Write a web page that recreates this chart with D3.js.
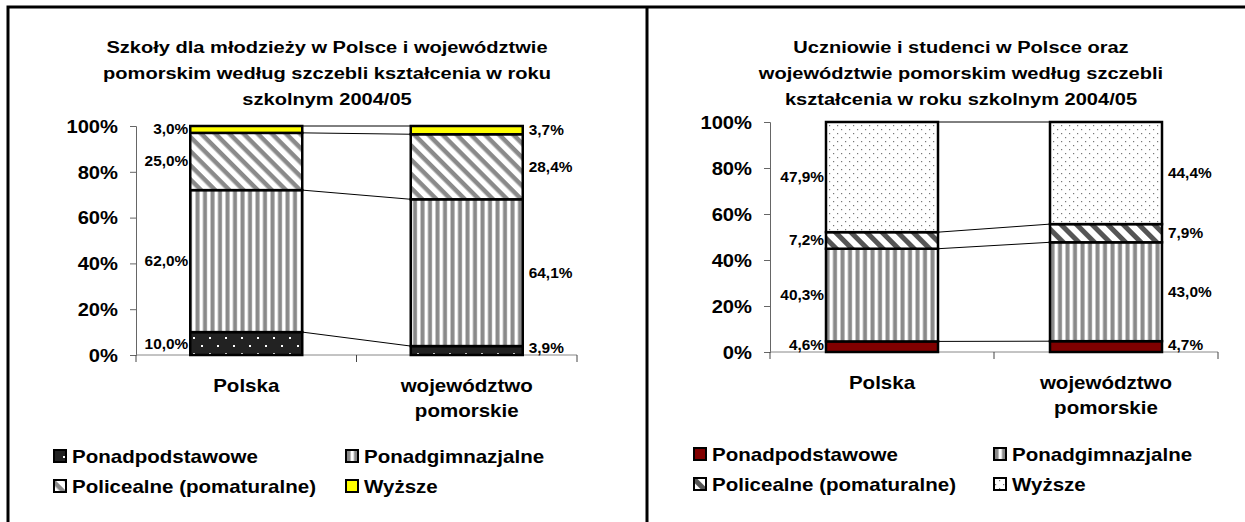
<!DOCTYPE html>
<html>
<head>
<meta charset="utf-8">
<script src="https://cdn.jsdelivr.net/npm/d3@7"></script>
<style>
  body { margin: 0; background: #fff; }
  svg { display: block; font-family: "Liberation Sans", Arial, sans-serif; font-weight: bold; }
</style>
</head>
<body>
<svg width="1245" height="522"></svg>
<script>
const width = 1245;
const height = 522;

// data
const categories = ['Polska', 'województwo pomorskie'];
const seriesNames = ['Ponadpodstawowe', 'Ponadgimnazjalne', 'Policealne (pomaturalne)', 'Wyższe'];
const yTicks = [0, 20, 40, 60, 80, 100];

const titleLeft = ['Szkoły dla młodzieży w Polsce i województwie',
                   'pomorskim według szczebli kształcenia w roku',
                   'szkolnym 2004/05'];
const schoolsPolska = [10.0, 62.0, 25.0, 3.0];
const schoolsPomorskie = [3.9, 64.1, 28.4, 3.7];

const titleRight = ['Uczniowie i studenci w Polsce oraz',
                    'województwie pomorskim według szczebli',
                    'kształcenia w roku szkolnym 2004/05'];
const pupilsPolska = [4.6, 40.3, 7.2, 47.9];
const pupilsPomorskie = [4.7, 43.0, 7.9, 44.4];

// text in the original is a bit wider than Liberation Sans
const stretch = 1.14;

const svg = d3.select('svg');
const defs = svg.append('defs');

// place text at (x, y) with horizontal stretch
function wide(sel, s) {
  sel.each(function() {
    const t = d3.select(this);
    const x = +t.attr('x') || 0, y = +t.attr('y') || 0;
    t.attr('x', 0).attr('y', 0)
     .attr('transform', 'translate(' + x + ',' + y + ') scale(' + (s || stretch) + ',1)');
  });
}

// fill patterns
function dotPattern(id, bg, dot, step, r) {
  let p = defs.append('pattern').attr('id', id)
    .attr('patternUnits', 'userSpaceOnUse')
    .attr('width', step * 2).attr('height', step * 2);
  p.append('rect').attr('width', step * 2).attr('height', step * 2).attr('fill', bg);
  p.append('rect').attr('x', 1).attr('y', 1).attr('width', r).attr('height', r).attr('fill', dot);
  p.append('rect').attr('x', step + 1).attr('y', step + 1).attr('width', r).attr('height', r).attr('fill', dot);
}
function vStripes(id) {
  let p = defs.append('pattern').attr('id', id)
    .attr('patternUnits', 'userSpaceOnUse')
    .attr('width', 7.5).attr('height', 8);
  p.append('rect').attr('width', 7.5).attr('height', 8).attr('fill', '#fff');
  p.append('rect').attr('x', 0.5).attr('width', 4).attr('height', 8).attr('fill', '#8a8a8a');
}
function diagStripes(id, color, size, thick) {
  let p = defs.append('pattern').attr('id', id)
    .attr('patternUnits', 'userSpaceOnUse')
    .attr('width', size).attr('height', size)
    .attr('patternTransform', 'rotate(45)');
  p.append('rect').attr('width', size).attr('height', size).attr('fill', '#fff');
  p.append('rect').attr('width', size).attr('height', thick).attr('fill', color);
}
dotPattern('dotsDark', '#222', '#fff', 8, 2);
dotPattern('dotsLight', '#fff', '#777', 4, 1.2);
vStripes('vstripes');
diagStripes('diagL', '#8a8a8a', 10, 4.5);
diagStripes('diagR', '#555', 11, 5);

const fillsLeft = ['url(#dotsDark)', 'url(#vstripes)', 'url(#diagL)', '#ffff00'];
const fillsRight = ['#800000', 'url(#vstripes)', 'url(#diagR)', 'url(#dotsLight)'];

// frame
svg.append('path')
  .attr('d', 'M8,524 V7 H1250 M647,7 V524')
  .attr('fill', 'none').attr('stroke', '#000').attr('stroke-width', 3);

function drawChart(opts) {
  const g = svg.append('g');

  const x = d3.scaleBand().domain(categories).range([opts.left, opts.right]);
  const y = d3.scaleLinear().domain([0, 100]).range([opts.bottom, opts.top]);

  // title
  g.append('g')
    .attr('transform', 'translate(' + opts.titleX + ',0) scale(1.18,1)')
    .append('text')
    .attr('text-anchor', 'middle')
    .style('font-size', '17px')
    .selectAll('tspan').data(opts.title).enter().append('tspan')
      .attr('x', 0)
      .attr('y', (d, i) => 53 + i * 26)
      .text(d => d);

  // y axis
  const yAxis = g.append('g')
    .attr('transform', 'translate(' + opts.left + ',0)')
    .call(d3.axisLeft(y).tickValues(yTicks).tickFormat(d => d + '%').tickSize(6).tickPadding(12));
  yAxis.select('.domain').attr('stroke', '#666');
  yAxis.selectAll('.tick line').attr('stroke', '#666');
  yAxis.selectAll('text')
    .style('font-size', '18px').style('font-family', '"Liberation Sans", Arial, sans-serif')
    .style('font-weight', 'bold').attr('fill', '#000')
    .attr('dy', '0.35em')
    .call(wide, 1.12);

  // x axis line with ticks at category boundaries
  g.append('line')
    .attr('x1', opts.left).attr('x2', opts.right)
    .attr('y1', y(0)).attr('y2', y(0))
    .attr('stroke', '#888');
  g.selectAll('.xtick')
    .data([0, 1, 2]).enter().append('line')
    .attr('x1', i => opts.left + i * x.step()).attr('x2', i => opts.left + i * x.step())
    .attr('y1', y(0)).attr('y2', y(0) + 7)
    .attr('stroke', '#444');

  // category labels
  categories.forEach(c => {
    const words = c === 'Polska' ? ['Polska'] : ['województwo', 'pomorskie'];
    words.forEach((w, i) => {
      g.append('text')
        .attr('x', x(c) + x.bandwidth() / 2)
        .attr('y', opts.bottom + 37 + i * 25)
        .attr('text-anchor', 'middle')
        .style('font-size', '18px')
        .text(w)
        .call(wide);
    });
  });

  // stacked segments
  const barW = 112;
  const stacks = opts.values.map((vals, ci) => {
    let acc = 0;
    return vals.map((v, si) => {
      const s = { cat: categories[ci], ci: ci, si: si, v: v, y0: acc, y1: acc + v };
      acc += v;
      return s;
    });
  });

  // series lines between bars
  const bx = c => x(c) + x.bandwidth() / 2 - barW / 2;
  g.selectAll('.serline')
    .data(d3.range(seriesNames.length)).enter().append('line')
    .attr('x1', si => bx(categories[0]) + barW)
    .attr('x2', si => bx(categories[1]))
    .attr('y1', si => y(Math.min(100, stacks[0][si].y1)))
    .attr('y2', si => y(Math.min(100, stacks[1][si].y1)))
    .attr('stroke', '#000').attr('stroke-width', 1);

  const segs = stacks.flat();
  g.selectAll('.seg')
    .data(segs).enter().append('rect')
    .attr('x', d => bx(d.cat))
    .attr('y', d => y(Math.min(100, d.y1)))
    .attr('width', barW)
    .attr('height', d => y(d.y0) - y(Math.min(100, d.y1)))
    .attr('fill', d => opts.fills[d.si])
    .attr('stroke', '#000').attr('stroke-width', 2.5);

  // value labels
  g.selectAll('.lbl')
    .data(segs).enter().append('text')
    .attr('x', d => d.ci === 0 ? bx(d.cat) - 2 : bx(d.cat) + barW + 6)
    .attr('y', d => {
      let yy = y((d.y0 + Math.min(100, d.y1)) / 2) + 5;
      return Math.min(yy, y(0) - 2);
    })
    .attr('text-anchor', d => d.ci === 0 ? 'end' : 'start')
    .style('font-size', '14px')
    .text(d => d3.format('.1f')(d.v).replace('.', ',') + '%')
    .call(wide, 1.1);

  // legend
  const leg = g.selectAll('.leg')
    .data(seriesNames).enter().append('g')
    .attr('transform', (d, i) => 'translate(' + opts.legX[i % 2] + ',' + (opts.legY + Math.floor(i / 2) * 30) + ')');
  leg.append('rect')
    .attr('x', 0).attr('y', -13).attr('width', 12).attr('height', 12)
    .attr('fill', (d, i) => opts.fills[i])
    .attr('stroke', '#000').attr('stroke-width', 2);
  leg.append('text')
    .attr('x', 18).attr('y', 0)
    .style('font-size', '18px')
    .text(d => d)
    .call(wide);
}

drawChart({
  title: titleLeft, titleX: 327,
  values: [schoolsPolska, schoolsPomorskie],
  fills: fillsLeft,
  left: 136, right: 577, top: 126, bottom: 355,
  legX: [54, 346], legY: 463
});

drawChart({
  title: titleRight, titleX: 961,
  values: [pupilsPolska, pupilsPomorskie],
  fills: fillsRight,
  left: 770, right: 1218, top: 122, bottom: 352,
  legX: [694, 994], legY: 461
});
</script>
</body>
</html>
